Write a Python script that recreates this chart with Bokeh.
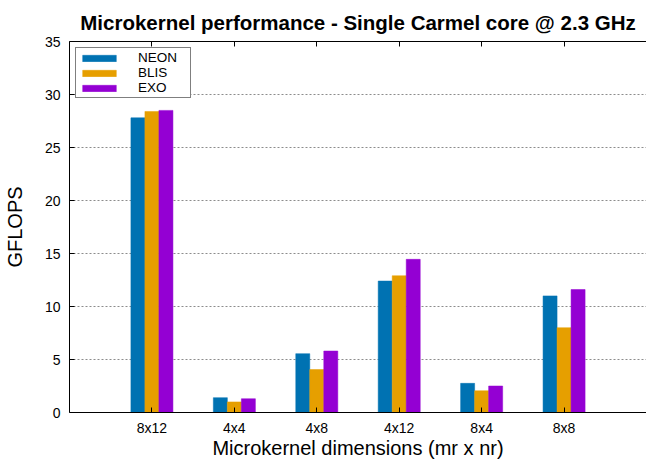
from bokeh.plotting import figure
from bokeh.models import LinearAxis, FixedTicker, Range1d, Legend, LegendItem
from bokeh.embed import file_html
from bokeh.resources import INLINE
import numpy as np

categories = ["8x12", "4x4", "4x8", "4x12", "8x4", "8x8"]
neon = [27.8, 1.4, 5.55, 12.4, 2.75, 11.0]
blis = [28.4, 1.0, 4.05, 12.9, 2.05, 8.0]
exo = [28.5, 1.3, 5.8, 14.45, 2.5, 11.6]
series_names = ["NEON", "BLIS", "EXO"]
series_colors = ["#0072B2", "#E69F00", "#9400D3"]
y_ticks = [0, 5, 10, 15, 20, 25, 30, 35]
title_text = "Microkernel performance - Single Carmel core @ 2.3 GHz"

FONT = "Liberation Sans"
x = np.arange(len(categories))

p = figure(width=646, height=462, output_backend="svg", toolbar_location=None,
           x_range=Range1d(-1.0, 6.0), y_range=Range1d(0, 35),
           min_border_left=68, min_border_right=0, min_border_top=41, min_border_bottom=50,
           x_axis_location=None, y_axis_location=None)
p.outline_line_color = None
p.background_fill_color = "white"
p.border_fill_color = "white"

p.title.text = title_text
p.title.text_font = FONT
p.title.text_font_size = "20.5px"
p.title.text_font_style = "bold"
p.title.align = "center"
p.title.text_color = "black"
p.title.standoff = 16

bw = 0.17
items = []
for i, (vals, name, col) in enumerate(zip([neon, blis, exo], series_names, series_colors)):
    r = p.vbar(x=x + (i - 1) * bw, top=vals, width=bw, bottom=0,
               fill_color=col, line_color=col, line_width=0.5)
    items.append(LegendItem(label=name, renderers=[r]))

# axes
tick_map = {int(i): c for i, c in enumerate(categories)}
xb = LinearAxis(ticker=FixedTicker(ticks=list(range(len(categories)))),
                major_label_overrides=tick_map)
xt = LinearAxis(ticker=FixedTicker(ticks=list(range(len(categories)))),
                major_label_text_font_size="0px", major_label_text_alpha=0)
yl = LinearAxis(ticker=FixedTicker(ticks=y_ticks))
for ax in (xb, xt, yl):
    ax.major_tick_in = 5
    ax.major_tick_out = 0
    ax.minor_tick_line_color = None
    ax.axis_line_color = "black"
    ax.major_tick_line_color = "black"
    ax.major_label_text_font = FONT
    ax.major_label_text_font_size = "14px"
    ax.major_label_text_color = "black"
    ax.axis_label_text_font = FONT
    ax.axis_label_text_font_style = "normal"
    ax.axis_label_text_color = "black"
xt.major_label_standoff = 0
xb.major_label_standoff = 7
xb.axis_label = "Microkernel dimensions (mr x nr)"
xb.axis_label_text_font_size = "20px"
xb.axis_label_standoff = -2
yl.major_label_standoff = 9
yl.axis_label = "GFLOPS"
yl.axis_label_text_font_size = "20px"
yl.axis_label_standoff = 16
p.add_layout(xb, "below")
p.add_layout(xt, "above")
p.add_layout(yl, "left")

# grid
p.xgrid.grid_line_color = None
p.ygrid.ticker = FixedTicker(ticks=y_ticks)
p.ygrid.grid_line_color = "#8c8c8c"
p.ygrid.grid_line_dash = "2 2"
p.ygrid.grid_line_width = 1

legend = Legend(items=items, location="top_left")
legend.label_text_font = FONT
legend.label_text_font_size = "13.5px"
legend.label_text_line_height = 1.0
legend.label_text_color = "black"
legend.glyph_width = 42
legend.glyph_height = 8
legend.label_height = 13
legend.label_width = 50
legend.label_standoff = 18
legend.spacing = -2
legend.padding = 2
legend.margin = 6
legend.border_line_color = "black"
legend.border_line_width = 1
legend.background_fill_alpha = 1
p.add_layout(legend, "center")

open("out.html", "w").write(file_html(p, INLINE))
